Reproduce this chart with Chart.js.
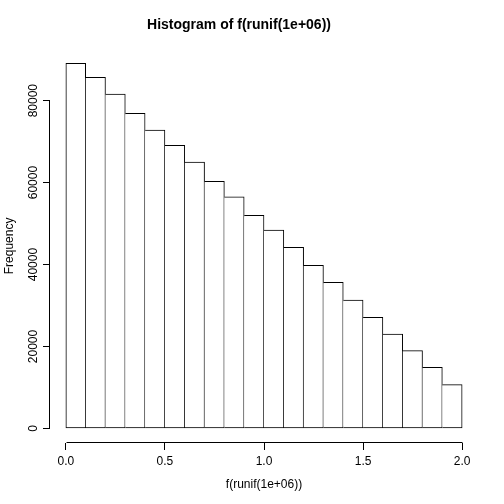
<!DOCTYPE html>
<html>
<head>
<meta charset="utf-8">
<script src="https://cdn.jsdelivr.net/npm/chart.js@4"></script>
<style>
html,body{margin:0;padding:0;background:#fff;}
#wrap{width:504px;height:504px;}
</style>
</head>
<body>
<div id="wrap"><canvas id="c" width="504" height="504"></canvas></div>
<script>
const binCenters = [0.05,0.15,0.25,0.35,0.45,0.55,0.65,0.75,0.85,0.95,1.05,1.15,1.25,1.35,1.45,1.55,1.65,1.75,1.85,1.95];
const counts = [89100,85700,81600,76900,72800,69100,65000,60300,56500,52000,48400,44200,39800,35650,31300,27100,23000,19000,14900,10700];
const xTicks = [0,0.5,1.0,1.5,2.0];
const yTicks = [0,20000,40000,60000,80000];
const titleText = 'Histogram of f(runif(1e+06))';
const xLabel = 'f(runif(1e+06))';
const yLabel = 'Frequency';

const xMin = 0, xMax = 2;
const yTop = Math.max(...counts);

Chart.defaults.color = '#000';
Chart.defaults.font.family = '"Liberation Sans", Arial, sans-serif';
Chart.defaults.font.size = 12;

const bgPlugin = {
  id: 'bg',
  beforeDraw(chart){
    const ctx = chart.ctx;
    ctx.save();
    ctx.fillStyle = '#fff';
    ctx.fillRect(0,0,chart.width,chart.height);
    ctx.restore();
  }
};
const axisLines = {
  id: 'axisLines',
  afterDraw(chart){
    const ctx = chart.ctx;
    const xs = chart.scales.x, ys = chart.scales.y;
    ctx.save();
    ctx.strokeStyle = '#000';
    ctx.lineWidth = 1;
    ctx.beginPath();
    const yb = Math.round(xs.top) - 0.5;
    ctx.moveTo(Math.round(xs.getPixelForValue(xTicks[0])) + 0.5, yb);
    ctx.lineTo(Math.round(xs.getPixelForValue(xTicks[xTicks.length-1])) + 0.5, yb);
    ctx.stroke();
    ctx.beginPath();
    const xl = Math.round(ys.right) - 0.5;
    const y0 = Math.round(ys.getPixelForValue(yTicks[0])) + 0.5;
    const y1 = Math.round(ys.getPixelForValue(yTicks[yTicks.length-1])) - 0.5;
    ctx.moveTo(xl, y0);
    ctx.lineTo(xl, y1);
    ctx.stroke();
    ctx.restore();
  }
};

new Chart(document.getElementById('c'), {
  type: 'bar',
  data: {
    datasets: [{
      data: binCenters.map((x,i)=>({x:x, y:counts[i]})),
      backgroundColor: '#fff',
      borderColor: '#000',
      borderWidth: c => c.dataIndex === 0 ? 1 : {left: 0, right: 1, top: 1, bottom: 1},
      borderSkipped: false,
      barPercentage: 1,
      categoryPercentage: 1
    }]
  },
  options: {
    responsive: false,
    animation: false,
    devicePixelRatio: 1,
    layout: { padding: { left: 0, right: 26, top: 0, bottom: 0 } },
    plugins: {
      legend: { display: false },
      tooltip: { enabled: false },
      title: {
        display: true,
        text: titleText,
        font: { size: 14, weight: 'bold' },
        padding: { top: 17, bottom: 15 }
      }
    },
    scales: {
      x: {
        type: 'linear',
        min: xMin - 0.04*(xMax-xMin),
        max: xMax + 0.04*(xMax-xMin),
        offset: false,
        afterBuildTicks(s){ s.ticks = xTicks.map(v=>({value:v})); },
        afterFit(s){ s.height = 61; },
        ticks: { callback: v => Number(v).toFixed(1), padding: 4, maxRotation: 0, autoSkip: false },
        grid: { offset: false, drawOnChartArea: false, drawTicks: true, tickLength: 7, color: '#000' },
        border: { display: false },
        title: { display: true, text: xLabel, font: { size: 12 }, padding: { top: 0, bottom: 12 } }
      },
      y: {
        type: 'linear',
        min: -0.04*yTop,
        max: 1.04*yTop,
        afterBuildTicks(s){ s.ticks = yTicks.map(v=>({value:v})); },
        afterFit(s){ s.width = 50; },
        ticks: { callback: v => String(v), minRotation: 90, maxRotation: 90, crossAlign: 'center', padding: -7, autoSkip: false },
        grid: { offset: false, drawOnChartArea: false, drawTicks: true, tickLength: 7, color: '#000' },
        border: { display: false },
        title: { display: true, text: yLabel, font: { size: 12 }, padding: { top: 2, bottom: 0 } }
      }
    }
  },
  plugins: [bgPlugin, axisLines]
});
</script>
</body>
</html>
